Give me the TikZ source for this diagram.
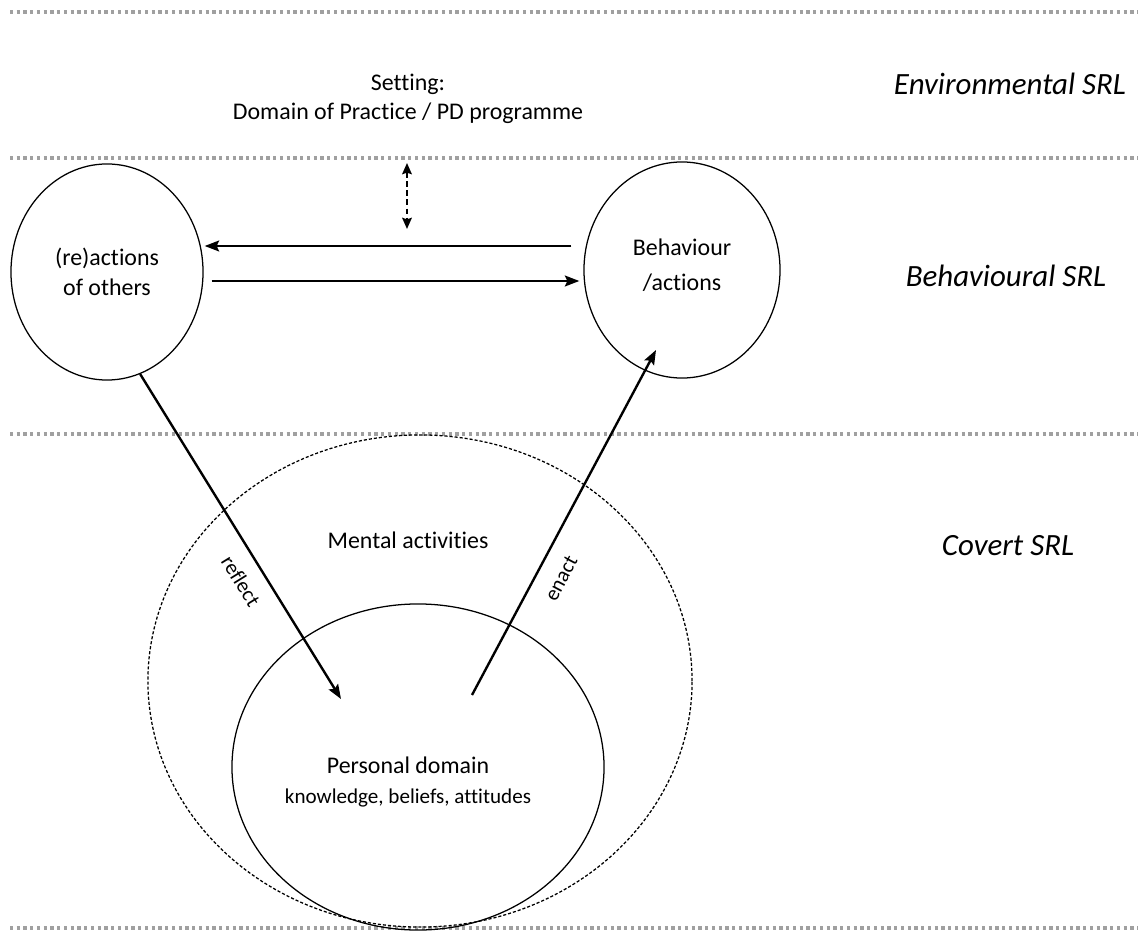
\documentclass[tikz,border=0pt]{standalone}
\usepackage{fontspec}
\setmainfont{Carlito}[Ligatures={NoCommon,NoContextual}]
\usetikzlibrary{arrows.meta, positioning, shapes.geometric, calc}
\definecolor{cdot}{HTML}{a0a0a0}
\definecolor{cline}{HTML}{000000}

\begin{document}
\begin{tikzpicture}[
  x=0.025cm, y=-0.025cm,
  font=\fontsize{17}{21}\selectfont,
  >={Stealth[length=3.6mm, width=2.7mm, inset=0.6mm]},
  circ/.style={draw=cline, ellipse, inner sep=0pt, line width=0.9pt, align=center},
  layer/.style={draw=cdot, line width=2.2pt, dash pattern=on 2.2pt off 2.6pt},
  arr/.style={->, line width=1.7pt, draw=cline},
  tier/.style={font=\fontsize{22}{26}\selectfont\itshape},
  side/.style={font=\fontsize{15}{17}\selectfont},
  ]
\useasboundingbox (0,0) rectangle (1138,931);

% layer borders
\foreach \y in {12,158,434,928}
  \draw[layer] (10,\y) -- (1138,\y);

\node[tier] (envsrl) at (1010,84) {Environmental SRL};
\node[tier] (behsrl) at (1006,276) {Behavioural SRL};
\node[tier] (covsrl) at (1008,546) {Covert SRL};

\node[align=center] (setting) at (408,99) {Setting:\\Domain of Practice / PD programme};

\node[circ, minimum width=4.8cm, minimum height=5.4cm] (others) at (107,272) {(re)actions\\of others};
\node[circ, minimum width=4.9cm, minimum height=5.4cm] (behaviour) at (682,270) {};
\node[align=center] (behtext) at (682,265) {Behaviour\\[4pt]/actions};

\node[circ, dash pattern=on 2.2pt off 1.4pt, minimum width=13.6cm, minimum height=12.3cm] (covert) at (420,681) {};
\node[circ, minimum width=9.3cm, minimum height=8.15cm] (personal) at (418,767) {};
\node (mental) at (408,540) {Mental activities};
\node[align=center] (pdtext) at (408,782) {Personal domain\\[1pt]{\fontsize{15}{17}\selectfont knowledge, beliefs, attitudes}};

\coordinate (settingtop) at (407,163);
\coordinate (settingbot) at (407,229);
\coordinate (reflectend) at (341,699);
\coordinate (enactstart) at (472,695);
\coordinate (enactend) at (656,350);

\draw[<->, line width=1.6pt, dash pattern=on 4pt off 2.5pt,
  >={Stealth[length=2.8mm, width=2.4mm, inset=0.4mm]}] (settingtop) -- (settingbot);
\draw[arr] ([shift={(-12,-24)}]behaviour.west) -- ([shift={(1,-26)}]others.east);
\draw[arr] ([shift={(8,9)}]others.east) -- ([shift={(-4,11)}]behaviour.west);

\draw[arr] (others.-72) -- (reflectend)
  node[side, pos=0.6, sloped, below=7pt] {reflect};
\draw[arr] (enactstart) -- (enactend)
  node[side, pos=0.37, sloped, below=8pt] {enact};
\end{tikzpicture}
\end{document}
